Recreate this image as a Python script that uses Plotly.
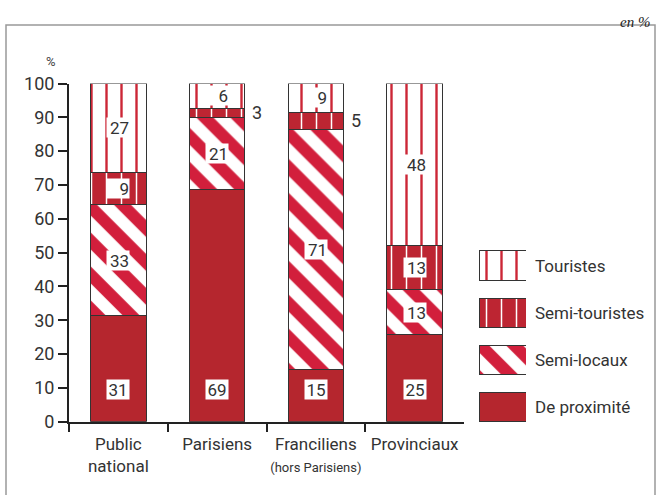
import plotly.graph_objects as go

# ---------------- data ----------------
categories = ["Public national", "Parisiens", "Franciliens", "Provinciaux"]
tick_labels = ["Public<br>national", "Parisiens",
               "Franciliens<br><span style='font-size:13px'>(hors Parisiens)</span>",
               "Provinciaux"]
series_names = ["De proximité", "Semi-locaux", "Semi-touristes", "Touristes"]

proximite = [31.3, 68.7, 15.3, 25.7]
semi_locaux = [32.8, 21.2, 71.2, 13.3]
semi_touristes = [9.6, 2.8, 5.0, 13.2]
touristes = [26.3, 7.3, 8.5, 47.8]

lab_proximite = ["31", "69", "15", "25"]
lab_semi_locaux = ["33", "21", "71", "13"]
lab_semi_touristes = ["9", "3", "5", "13"]
lab_touristes = ["27", "6", "9", "48"]

# ---------------- styles ----------------
FONT = "Roboto, 'Liberation Sans', sans-serif"
TXT = "#333333"
RED_SOLID = "#b5262e"
RED_STRIPE = "#d21f3c"
RED_SEMI = "#bd2532"
RED_LINE = "#cc2636"
OUTLINE = dict(color="#333333", width=1)

styles = {
    "De proximité": dict(color=RED_SOLID, line=OUTLINE),
    "Semi-locaux": dict(color="white", line=OUTLINE,
                        pattern=dict(shape="\\", fgcolor=RED_STRIPE, bgcolor="white",
                                     fgopacity=1, size=24, solidity=0.5,
                                     fillmode="overlay")),
    "Semi-touristes": dict(color=RED_SEMI, line=OUTLINE,
                           pattern=dict(shape="|", fgcolor="white", bgcolor=RED_SEMI,
                                        fgopacity=1, size=15, solidity=0.1,
                                        fillmode="overlay")),
    "Touristes": dict(color="white", line=OUTLINE,
                      pattern=dict(shape="|", fgcolor=RED_LINE, bgcolor="white",
                                   fgopacity=1, size=15, solidity=0.16,
                                   fillmode="overlay")),
}

values = {"De proximité": proximite, "Semi-locaux": semi_locaux,
          "Semi-touristes": semi_touristes, "Touristes": touristes}
labels = {"De proximité": lab_proximite, "Semi-locaux": lab_semi_locaux,
          "Semi-touristes": lab_semi_touristes, "Touristes": lab_touristes}

W, H = 657, 495
BAR_W = 0.564

fig = go.Figure()
for name in series_names:
    fig.add_trace(go.Bar(x=categories, y=values[name], name=name, width=BAR_W,
                         marker=styles[name], showlegend=False,
                         hoverinfo="x+y+name"))

# legend built as a small bar panel
legend_order = ["Touristes", "Semi-touristes", "Semi-locaux", "De proximité"]
for name in legend_order:
    fig.add_trace(go.Bar(x=[1], y=[name], orientation="h", width=0.62,
                         marker=styles[name], showlegend=False,
                         xaxis="x2", yaxis="y2", hoverinfo="skip"))

# value labels
annotations = []
cat_px = (464 - 69) / 4.0
half_bar_px = BAR_W * cat_px / 2
for i, cat in enumerate(categories):
    base = 0.0
    for name in series_names:
        v = values[name][i]
        lab = labels[name][i]
        if name == "De proximité":
            annotations.append(dict(x=cat, y=9.5, xref="x", yref="y", text=lab,
                                    showarrow=False, bgcolor="white", borderpad=0,
                                    width=22, height=19, align="center",
                                    font=dict(family=FONT, size=17, color=TXT)))
        elif v < 6:
            annotations.append(dict(x=cat, y=base + v / 2, xref="x", yref="y", text=lab,
                                    showarrow=False, xanchor="left",
                                    xshift=half_bar_px + 5,
                                    font=dict(family=FONT, size=18, color=TXT)))
        else:
            annotations.append(dict(x=cat, y=base + v / 2, xref="x", yref="y", text=lab,
                                    showarrow=False, bgcolor="white", borderpad=0,
                                    width=22, height=19, align="right",
                                    font=dict(family=FONT, size=17, color=TXT)))
        base += v

annotations.append(dict(x=652 / W, y=1 - 12 / H, xref="paper", yref="paper",
                        text="<i>en %</i>", showarrow=False, xanchor="right",
                        font=dict(family="Liberation Serif, DejaVu Serif, serif",
                                  size=15, color="#222222")))
annotations.append(dict(x=44 / W, y=1 - 52 / H, xref="paper", yref="paper",
                        text="%", showarrow=False,
                        font=dict(family=FONT, size=13, color="#444444")))

fig.update_layout(
    width=W, height=H,
    margin=dict(l=0, r=0, t=0, b=0),
    paper_bgcolor="white", plot_bgcolor="white",
    barmode="stack",
    font=dict(family=FONT, size=16, color=TXT),
    xaxis=dict(domain=[69 / W, 464 / W], type="category",
               categoryorder="array", categoryarray=categories,
               tickvals=categories, ticktext=tick_labels, tickangle=0,
               range=[-0.5, 3.5], showline=True, linecolor="#222222", linewidth=2,
               ticks="outside", tickson="boundaries", ticklen=8, tickwidth=1.5,
               tickcolor="#222222", showgrid=False, zeroline=False, automargin=False,
               ticklabelstandoff=6,
               tickfont=dict(family=FONT, size=17, color=TXT), fixedrange=True),
    yaxis=dict(domain=[1 - 421.7 / H, 1 - 83.5 / H], range=[0, 100],
               tickvals=[0, 10, 20, 30, 40, 50, 60, 70, 80, 90, 100],
               showline=True, linecolor="#222222", linewidth=2,
               ticks="outside", ticklen=9, tickwidth=1.5, tickcolor="#222222",
               showgrid=False, zeroline=False, automargin=False,
               tickfont=dict(family=FONT, size=18, color=TXT), fixedrange=True),
    xaxis2=dict(domain=[479 / W, 526 / W], range=[0, 1], visible=False,
                anchor="y2", fixedrange=True),
    yaxis2=dict(domain=[1 - 430.5 / H, 1 - 242 / H], anchor="x2", type="category",
                categoryorder="array", categoryarray=legend_order,
                range=[3.5, -0.5], side="right", showline=False, ticks="",
                showgrid=False, zeroline=False, automargin=False,
                ticklabelstandoff=8,
                tickfont=dict(family=FONT, size=17, color=TXT), fixedrange=True),
    annotations=annotations,
    shapes=[dict(type="rect", xref="paper", yref="paper",
                 x0=6 / W, x1=655 / W, y0=-0.2, y1=1 - 25 / H,
                 line=dict(color="#999999", width=1.5), layer="below")],
)

fig.write_html("out.html", config={"displayModeBar": False},
               post_script="document.body.style.margin='0';document.body.style.overflow='hidden';")
